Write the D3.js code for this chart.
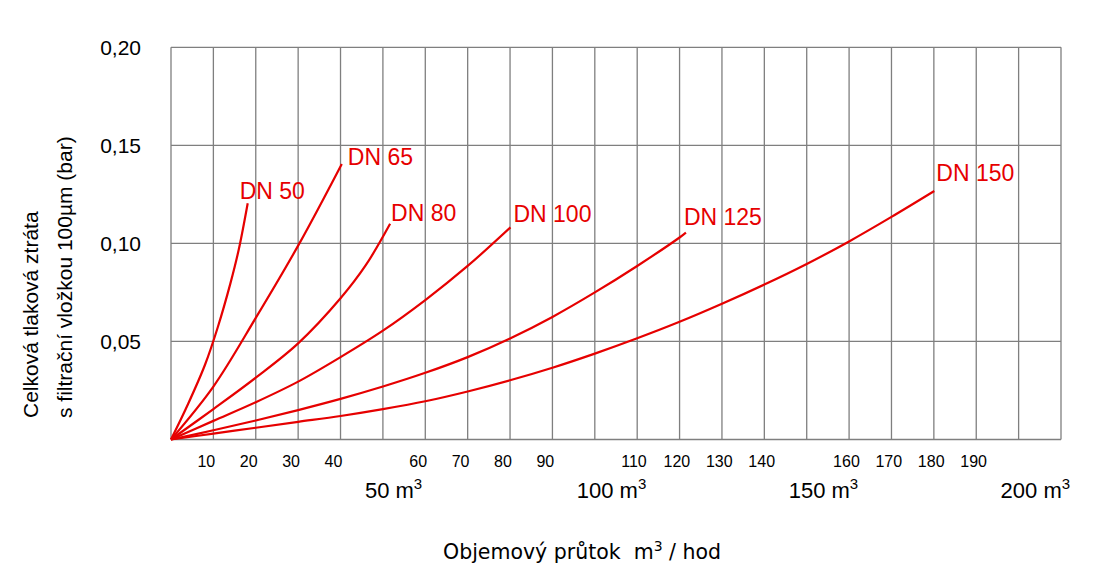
<!DOCTYPE html>
<html>
<head>
<meta charset="utf-8">
<script src="https://cdn.jsdelivr.net/npm/d3@7"></script>
<style>
  body { margin: 0; background: #fff; }
  text { font-family: "Liberation Sans", Arial, sans-serif; }
</style>
</head>
<body>
<svg id="chart" width="1093" height="577"></svg>
<script>
// pressure loss curves, [flow m3/h, loss bar]
var names = ["DN 50", "DN 65", "DN 80", "DN 100", "DN 125", "DN 150"];
var dn50 = [[0,0],[4,0.018],[8,0.038],[11,0.057],[14,0.0795],[16,0.097],[18.1,0.1205]];
var dn65 = [[0,0],[10,0.027],[20,0.062],[30.3,0.10],[40.3,0.1405]];
var dn80 = [[0,0],[10,0.0155],[20,0.0315],[30,0.049],[40,0.072],[46,0.089],[51.7,0.110]];
var dn100 = [[0,0],[10,0.0095],[20,0.019],[30,0.0295],[40,0.042],[50,0.0555],[60,0.0711],[70,0.0885],[80.1,0.1082]];
var dn125 = [[0,0],[10,0.0047],[20,0.0097],[30,0.015],[40,0.0207],[50,0.027],[60,0.034],[70,0.042],[80,0.0515],
             [90,0.0625],[100,0.075],[110,0.0885],[120,0.103],[121.5,0.1055]];
var dn150 = [[0,0],[10,0.003],[20,0.006],[30,0.009],[40,0.012],[50,0.0155],[60,0.0195],[70,0.0245],[80,0.0302],
             [90,0.0366],[100,0.0438],[110,0.0516],[120,0.06],[130,0.0692],[140,0.079],[150,0.0895],
             [160,0.101],[170,0.1135],[180.1,0.1267]];
var curves = [dn50, dn65, dn80, dn100, dn125, dn150];

var yTicks = [0.05, 0.10, 0.15, 0.20];
var xTicksSmall = [10,20,30,40,60,70,80,90,110,120,130,140,160,170,180,190];
var xTicksBig = [50, 100, 150, 200];

var red = "#e60000", grid = "#7f7f7f";

var svg = d3.select("#chart");
var margin = {top: 47.3, left: 171, right: 32, bottom: 137.5};
var width = 1093 - margin.left - margin.right,
    height = 577 - margin.top - margin.bottom;

var x = d3.scaleLinear().domain([0, 210]).range([0, width]);
var y = d3.scaleLinear().domain([0, 0.2]).range([height, 0]);

var g = svg.append("g")
    .attr("transform", "translate(" + margin.left + "," + margin.top + ")");

// grid
g.append("g")
    .selectAll("line")
    .data(d3.range(0, 211, 10))
  .enter().append("line")
    .attr("x1", function(d){ return x(d); })
    .attr("x2", function(d){ return x(d); })
    .attr("y1", 0).attr("y2", height)
    .attr("stroke", grid).attr("stroke-width", 1.3);

g.append("g")
    .selectAll("line")
    .data([0].concat(yTicks))
  .enter().append("line")
    .attr("x1", 0).attr("x2", width)
    .attr("y1", function(d){ return y(d); })
    .attr("y2", function(d){ return y(d); })
    .attr("stroke", grid).attr("stroke-width", 1.3);

// y labels
var fmt = function(d){ return d3.format(".2f")(d).replace(".", ","); };
g.append("g").selectAll("text")
    .data(yTicks)
  .enter().append("text")
    .attr("x", -30)
    .attr("y", function(d){ return y(d); })
    .attr("dy", "0.36em")
    .attr("text-anchor", "end")
    .attr("font-size", 21)
    .text(fmt);

// x labels, first row
g.append("g").selectAll("text")
    .data(xTicksSmall)
  .enter().append("text")
    .attr("x", function(d){ return x(d) - 16; })
    .attr("y", height + 27.5)
    .attr("font-size", 16)
    .text(function(d){ return d; });

// x labels, second row
var big = g.append("g").selectAll("text")
    .data(xTicksBig)
  .enter().append("text")
    .attr("x", function(d){ return x(d) - 18; })
    .attr("y", height + 58.5)
    .attr("font-size", 22);
big.append("tspan").text(function(d){ return d + " m"; });
big.append("tspan").attr("dy", -9).attr("font-size", 15).text("3");

// curves
var line = d3.line()
    .x(function(d){ return x(d[0]); })
    .y(function(d){ return y(d[1]); })
    .curve(d3.curveCatmullRom.alpha(0.5));

g.selectAll(".curve")
    .data(curves)
  .enter().append("path")
    .attr("class", "curve")
    .attr("d", line)
    .attr("fill", "none")
    .attr("stroke", red)
    .attr("stroke-width", 2.2);

// curve labels next to curve ends
var labelShift = [[-8,-4],[6,1],[1,-3],[3,-5],[-2,-8],[2,-10]];
g.selectAll(".dn")
    .data(curves)
  .enter().append("text")
    .attr("class", "dn")
    .attr("x", function(d, i){ return x(d[d.length-1][0]) + labelShift[i][0]; })
    .attr("y", function(d, i){ return y(d[d.length-1][1]) + labelShift[i][1]; })
    .attr("font-size", 23)
    .attr("fill", red)
    .text(function(d, i){ return names[i]; });

// axis titles
var yt = svg.append("text")
    .attr("transform", "translate(38,418) rotate(-90)")
    .attr("font-size", 21);
yt.append("tspan").attr("x", 0).attr("y", 0).text("Celková tlaková ztráta");
yt.append("tspan").attr("x", 0).attr("y", 34).text("s filtrační vložkou 100µm (bar)");

var xt = svg.append("text")
    .attr("x", 443).attr("y", 559)
    .style("font-family", "'DejaVu Sans', Verdana, sans-serif")
    .style("white-space", "pre")
    .attr("font-size", 20.5);
xt.append("tspan").text("Objemový průtok  m");
xt.append("tspan").attr("dy", -8).attr("font-size", 14).text("3");
xt.append("tspan").attr("dy", 8).text(" / hod");
</script>
</body>
</html>
